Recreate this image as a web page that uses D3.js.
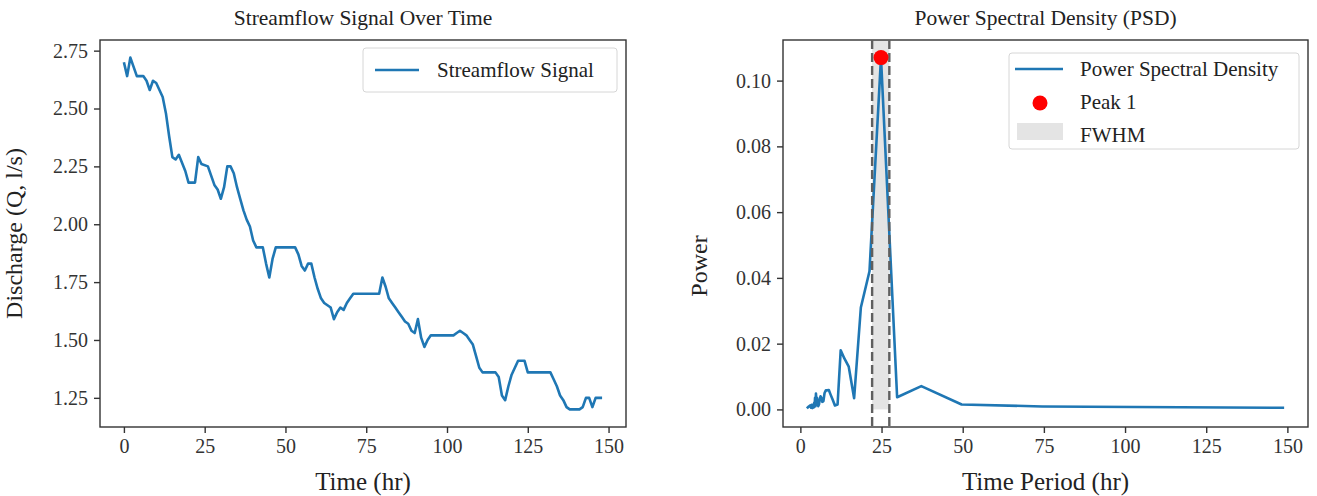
<!DOCTYPE html>
<html>
<head>
<meta charset="utf-8">
<script src="https://cdn.jsdelivr.net/npm/d3@7"></script>
<style>
  body { margin: 0; background: #fff; }
  svg { display: block; font-family: 'Liberation Serif', 'Times New Roman', serif; }
</style>
</head>
<body>
<svg id="chart" width="1317" height="496"></svg>
<script>
// streamflow signal (hours, l/s)
const hours = [0, 1, 2, 3, 4, 6, 7, 8, 9, 10, 12, 13, 14, 15, 16, 17, 19, 20, 22, 23,
  24, 26, 27, 28, 29, 30, 31, 32, 33, 34, 35, 36, 37, 38, 39, 40, 41, 43, 44, 45,
  46, 47, 53, 54, 55, 56, 57, 58, 59, 60, 61, 62, 63, 64, 65, 66, 67, 68, 69, 70,
  71, 79, 80, 81, 82, 83, 84, 85, 86, 87, 88, 89, 90, 91, 92, 93, 94, 95, 102, 103,
  104, 105, 106, 107, 108, 109, 110, 111, 115, 116, 117, 118, 119, 120, 121, 122, 124, 125, 132, 133,
  134, 135, 136, 137, 138, 141, 142, 143, 144, 145, 146, 148]
const discharge = [2.70, 2.64, 2.72, 2.68, 2.64, 2.64, 2.62, 2.58, 2.62, 2.61, 2.55, 2.48, 2.38, 2.29, 2.28, 2.30, 2.23, 2.18, 2.18, 2.29,
  2.26, 2.25, 2.21, 2.17, 2.15, 2.11, 2.16, 2.25, 2.25, 2.22, 2.16, 2.11, 2.06, 2.02, 1.99, 1.93, 1.90, 1.90, 1.83, 1.77,
  1.85, 1.90, 1.90, 1.87, 1.82, 1.80, 1.83, 1.83, 1.77, 1.72, 1.68, 1.66, 1.65, 1.64, 1.59, 1.62, 1.64, 1.63, 1.66, 1.68,
  1.70, 1.70, 1.77, 1.73, 1.68, 1.66, 1.64, 1.62, 1.60, 1.58, 1.57, 1.54, 1.53, 1.59, 1.51, 1.47, 1.50, 1.52, 1.52, 1.53,
  1.54, 1.53, 1.52, 1.50, 1.48, 1.43, 1.38, 1.36, 1.36, 1.34, 1.26, 1.24, 1.30, 1.35, 1.38, 1.41, 1.41, 1.36, 1.36, 1.33,
  1.30, 1.26, 1.24, 1.21, 1.20, 1.20, 1.21, 1.25, 1.25, 1.21, 1.25, 1.25]

// power spectral density against period (hr)
const periods = [2.0, 2.5, 3.0, 3.3, 3.5, 3.7, 3.9, 4.03, 4.14, 4.26, 4.38, 4.52, 4.66, 4.8, 4.97, 5.14, 5.32, 5.52, 5.73, 5.96,
  6.21, 6.48, 6.77, 7.1, 7.45, 7.84, 8.28, 8.76, 9.31, 9.93, 10.64, 11.46, 12.42, 13.55, 14.9, 16.56, 18.63, 21.29, 24.83, 29.8,
  37.25, 49.67, 74.5, 149]
const power = [0.0003, 0.0008, 0.0012, 0.0005, 0.0014, 0.0004, 0.0010, 0.0015, 0.0006, 0.0020, 0.0008, 0.0035, 0.0010, 0.0048, 0.0020, 0.0035, 0.0018, 0.0010, 0.0015, 0.0030,
  0.0040, 0.0035, 0.0023, 0.0025, 0.0050, 0.0058, 0.0058, 0.0059, 0.0045, 0.0030, 0.0012, 0.0015, 0.0180, 0.0155, 0.0130, 0.0034, 0.0310, 0.0420, 0.1070, 0.0037,
  0.0071, 0.0015, 0.0009, 0.0005]
const peakPeriod = [24.83]
const peakPower = [0.107]
const fwhm = [22.1, 27.4]

const xTicks = [0, 25, 50, 75, 100, 125, 150]
const qTicks = [1.25, 1.50, 1.75, 2.00, 2.25, 2.50, 2.75]
const pTicks = [0.00, 0.02, 0.04, 0.06, 0.08, 0.10]

const BLUE = '#1f77b4'
const LINE_WD = 2.6
const svg = d3.select('#chart')

// padded domain like matplotlib's 5% margins
const pad = ext => {
  const m = (ext[1] - ext[0]) * 0.05
  return [ext[0] - m, ext[1] + m]
}

const drawFrame = (g, x, y, w, h, yTickFmt, opts) => {
  g.append('g')
    .attr('class', 'axis-x')
    .attr('transform', 'translate(0,' + h + ')')
    .call(d3.axisBottom(x).tickValues(xTicks).tickSize(6).tickPadding(6).tickFormat(d3.format('d')))
  g.append('g')
    .attr('class', 'axis-y')
    .call(d3.axisLeft(y).tickValues(opts.yTicks).tickSize(6).tickPadding(6).tickFormat(yTickFmt))
  g.selectAll('.domain').remove()
  g.selectAll('.axis-x, .axis-y').attr('font-family', null).attr('font-size', null)
  g.selectAll('.tick line').attr('stroke', '#333').attr('stroke-width', 1.4)
  g.selectAll('.tick text').attr('fill', '#333').style('font-size', '20px')

  g.append('rect')
    .attr('width', w)
    .attr('height', h)
    .attr('fill', 'none')
    .attr('stroke', '#333')
    .attr('stroke-width', 1.4)

  g.append('text')
    .attr('x', w / 2)
    .attr('y', -15)
    .attr('text-anchor', 'middle')
    .attr('fill', '#222')
    .style('font-size', '21.5px')
    .text(opts.title)
  g.append('text')
    .attr('x', w / 2)
    .attr('y', h + 63)
    .attr('text-anchor', 'middle')
    .attr('fill', '#222')
    .style('font-size', '25px')
    .text(opts.xLabel)
  g.append('text')
    .attr('transform', 'translate(' + opts.yLabelX + ',' + opts.yLabelY + ') rotate(-90)')
    .attr('text-anchor', 'middle')
    .attr('fill', '#222')
    .style('font-size', '24px')
    .text(opts.yLabel)
}

// left panel: streamflow
{
  const left = 100, top = 40, w = 526, h = 387
  const sig = hours.map((t, i) => ({ t, q: discharge[i] }))
  const x = d3.scaleLinear().domain(pad(d3.extent(hours))).range([0, w])
  const y = d3.scaleLinear().domain(pad(d3.extent(discharge))).range([h, 0])
  const g = svg.append('g').attr('transform', 'translate(' + left + ',' + top + ')')

  drawFrame(g, x, y, w, h, d3.format('.2f'), {
    yTicks: qTicks,
    title: 'Streamflow Signal Over Time',
    xLabel: 'Time (hr)',
    yLabel: 'Discharge (Q, l/s)',
    yLabelX: -78,
    yLabelY: h / 2,
  })

  g.append('path')
    .datum(sig)
    .attr('fill', 'none')
    .attr('stroke', BLUE)
    .attr('stroke-width', LINE_WD)
    .attr('stroke-linejoin', 'round')
    .attr('d', d3.line().x(d => x(d.t)).y(d => y(d.q)))

  // legend
  const lg = g.append('g').attr('transform', 'translate(263,8)')
  lg.append('rect')
    .attr('width', 254).attr('height', 44).attr('rx', 3)
    .attr('fill', '#fff').attr('stroke', '#d6d6d6')
  lg.append('line')
    .attr('x1', 12).attr('x2', 56).attr('y1', 22).attr('y2', 22)
    .attr('stroke', BLUE).attr('stroke-width', LINE_WD)
  lg.append('text')
    .attr('x', 74).attr('y', 29)
    .attr('fill', '#222')
    .style('font-size', '21px')
    .text('Streamflow Signal')
}

// right panel: PSD
{
  const left = 783, top = 40, w = 525, h = 387
  const psd = periods.map((p, i) => ({ p, v: power[i] }))
  const x = d3.scaleLinear().domain(pad(d3.extent(periods))).range([0, w])
  const y = d3.scaleLinear().domain(pad([0, d3.max(power)])).range([h, 0])
  const g = svg.append('g').attr('transform', 'translate(' + left + ',' + top + ')')

  // FWHM band from zero up to the frame top
  g.append('rect')
    .attr('x', x(fwhm[0]))
    .attr('y', 0)
    .attr('width', x(fwhm[1]) - x(fwhm[0]))
    .attr('height', y(0))
    .attr('fill', '#e4e4e4')

  drawFrame(g, x, y, w, h, d3.format('.2f'), {
    yTicks: pTicks,
    title: 'Power Spectral Density (PSD)',
    xLabel: 'Time Period (hr)',
    yLabel: 'Power',
    yLabelX: -76,
    yLabelY: 226,
  })

  g.append('path')
    .datum(psd)
    .attr('fill', 'none')
    .attr('stroke', BLUE)
    .attr('stroke-width', LINE_WD)
    .attr('stroke-linejoin', 'round')
    .attr('d', d3.line().x(d => x(d.p)).y(d => y(d.v)))

  g.selectAll('.fwhm-line')
    .data(fwhm)
    .enter()
    .append('line')
    .attr('class', 'fwhm-line')
    .attr('x1', d => x(d)).attr('x2', d => x(d))
    .attr('y1', 0).attr('y2', h)
    .attr('stroke', '#5f5f5f')
    .attr('stroke-width', 2.4)
    .attr('stroke-dasharray', '9,4')

  g.selectAll('.peak')
    .data(peakPeriod)
    .enter()
    .append('circle')
    .attr('class', 'peak')
    .attr('cx', d => x(d))
    .attr('cy', (d, i) => y(peakPower[i]))
    .attr('r', 7.5)
    .attr('fill', '#ff0000')

  // legend
  const lg = g.append('g').attr('transform', 'translate(226,13)')
  lg.append('rect')
    .attr('width', 290).attr('height', 96).attr('rx', 3)
    .attr('fill', '#fff').attr('fill-opacity', 0.85).attr('stroke', '#d6d6d6')
  lg.append('line')
    .attr('x1', 6).attr('x2', 54).attr('y1', 16).attr('y2', 16)
    .attr('stroke', BLUE).attr('stroke-width', LINE_WD)
  lg.append('circle')
    .attr('cx', 31).attr('cy', 50).attr('r', 7.5)
    .attr('fill', '#ff0000')
  lg.append('rect')
    .attr('x', 8).attr('y', 70).attr('width', 46).attr('height', 17)
    .attr('fill', '#e4e4e4')
  const rows = ['Power Spectral Density', 'Peak 1', 'FWHM']
  lg.selectAll('.lab')
    .data(rows)
    .enter()
    .append('text')
    .attr('class', 'lab')
    .attr('x', 71)
    .attr('y', (d, i) => 23 + i * 33)
    .attr('fill', '#222')
    .style('font-size', '21px')
    .text(d => d)
}
</script>
</body>
</html>
